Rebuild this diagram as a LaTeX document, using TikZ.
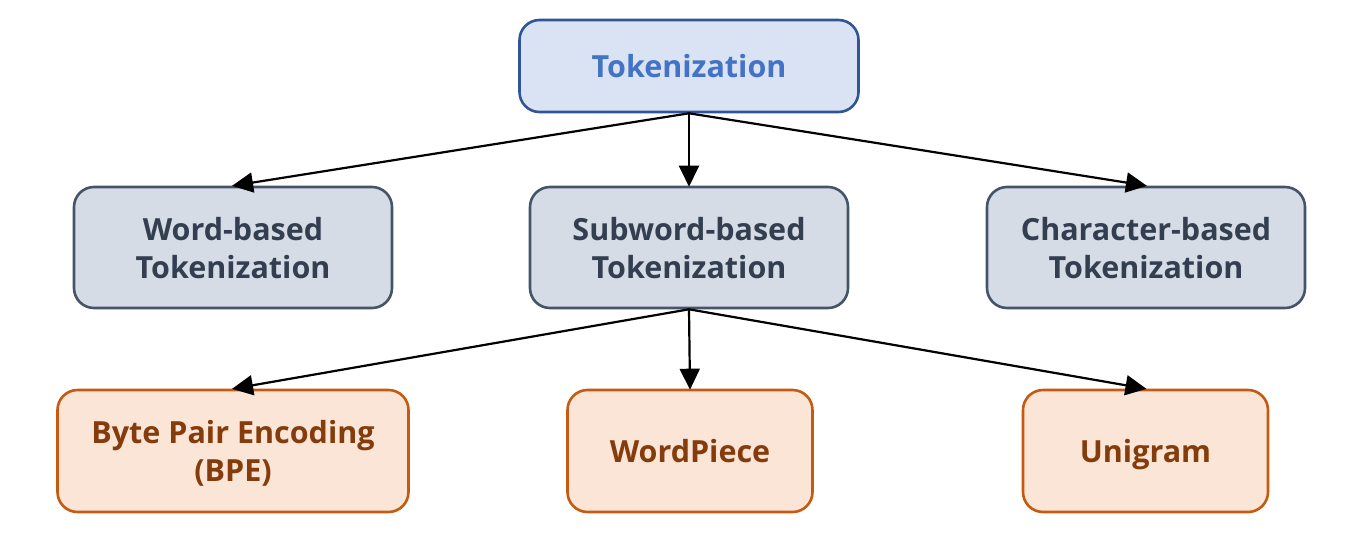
\documentclass[tikz,border=0pt]{standalone}
\usepackage{fontspec}
\setmainfont{Open Sans}
\usetikzlibrary{arrows.meta}
\definecolor{topfill}{HTML}{DAE3F3}
\definecolor{topdraw}{HTML}{2F5597}
\definecolor{toptext}{HTML}{4472C4}
\definecolor{midfill}{HTML}{D6DCE5}
\definecolor{middraw}{HTML}{44546A}
\definecolor{midtext}{HTML}{333F50}
\definecolor{botfill}{HTML}{FBE5D6}
\definecolor{botdraw}{HTML}{C55A11}
\definecolor{bottext}{HTML}{843C0C}
\tikzset{
  box/.style={rounded corners=20pt, line width=2.6pt, align=center, inner sep=0pt,
    text depth=0pt, font=\fontsize{30.5}{38}\selectfont\bfseries},
  topbox/.style={box, fill=topfill, draw=topdraw, text=toptext, minimum width=339pt, minimum height=92pt},
  midbox/.style={box, fill=midfill, draw=middraw, text=midtext, minimum width=318pt, minimum height=121pt},
  botbox/.style={box, fill=botfill, draw=botdraw, text=bottext, minimum height=122pt},
  conn/.style={line width=2.2pt, -{Triangle[length=21pt,width=20pt]}, shorten >=-1pt}
}
\begin{document}
\begin{tikzpicture}[x=1pt,y=-1pt]
\useasboundingbox (0,0) rectangle (1360,544);
\node[topbox] (tok) at (689,66) {Tokenization};
\node[midbox] (word) at (233,247.5) {Word-based\\Tokenization};
\node[midbox] (sub) at (689,247.5) {Subword-based\\Tokenization};
\node[midbox] (char) at (1146,247.5) {Character-based\\Tokenization};
\node[botbox, minimum width=351pt] (bpe) at (233,451) {Byte Pair Encoding\\(BPE)};
\node[botbox, minimum width=245pt] (wp) at (690,451) {WordPiece};
\node[botbox, minimum width=245pt] (uni) at (1145.5,451) {Unigram};
\draw[conn] (tok.south) -- (word.north);
\draw[conn] (tok.south) -- (sub.north);
\draw[conn] (tok.south) -- (char.north);
\draw[conn] (sub.south) -- (bpe.north);
\draw[conn] (sub.south) -- (wp.north);
\draw[conn] (sub.south) -- (uni.north);
\end{tikzpicture}
\end{document}
